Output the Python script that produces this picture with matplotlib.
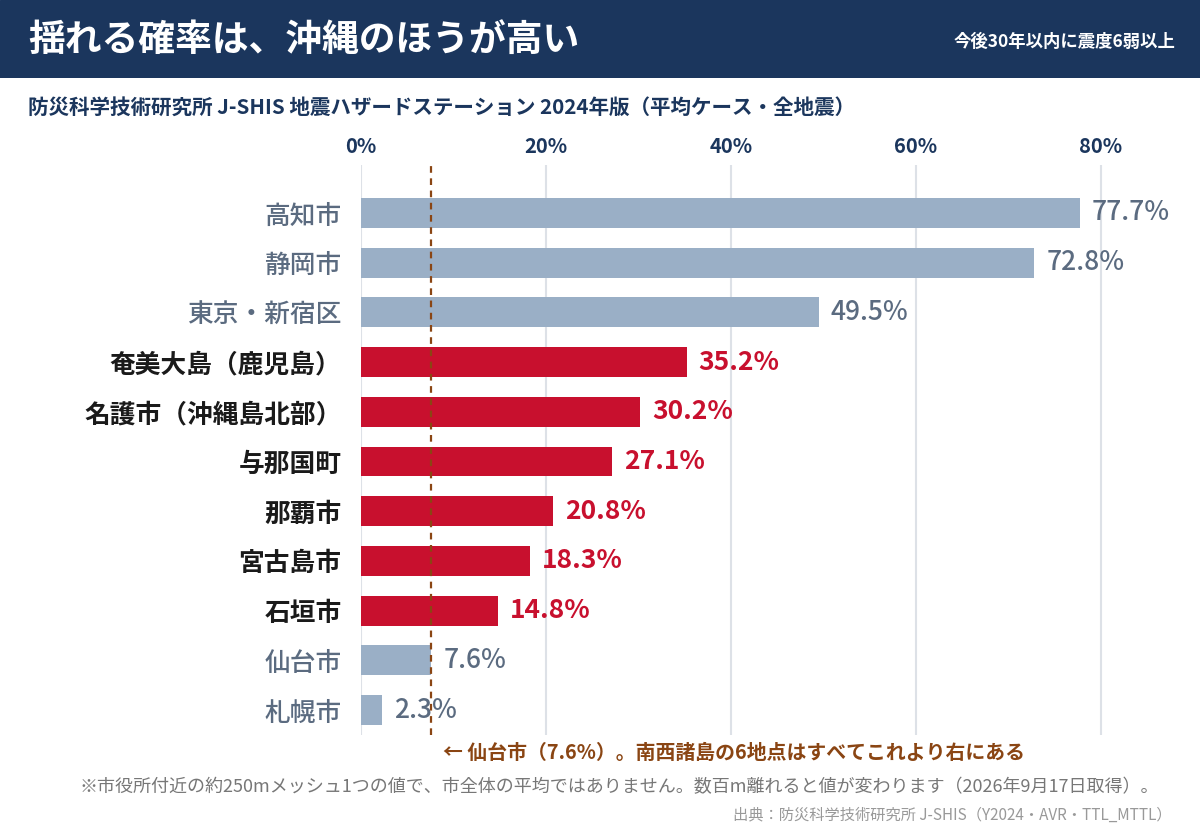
import matplotlib
matplotlib.use("Agg")
import matplotlib.pyplot as plt

plt.rcParams['font.family'] = ['Noto Sans CJK JP', 'DejaVu Sans']

categories = ["高知市", "静岡市", "東京・新宿区", "奄美大島（鹿児島）", "名護市（沖縄島北部）",
              "与那国町", "那覇市", "宮古島市", "石垣市", "仙台市", "札幌市"]
values = [77.7, 72.8, 49.5, 35.2, 30.2, 27.1, 20.8, 18.3, 14.8, 7.6, 2.3]
highlight = [False, False, False, True, True, True, True, True, True, False, False]
xticks = [0, 20, 40, 60, 80]
sendai = 7.6

NAVY = "#1b365d"
GRAYBAR = "#9aafc6"
RED = "#c8102e"
GRAYTXT = "#5b6b80"
BROWN = "#8a4513"

W, H = 1200, 832
fig = plt.figure(figsize=(12, 8.32), dpi=100)
fig.patch.set_facecolor("white")

hdr = fig.add_axes([0, 1 - 78 / H, 1, 78 / H])
hdr.set_axis_off()
hdr.add_patch(plt.Rectangle((0, 0), 1, 1, color=NAVY, transform=hdr.transAxes))
fig.text(28 / W, 1 - 40 / H, "揺れる確率は、沖縄のほうが高い", color="white",
         fontsize=26.5, fontweight="bold", va="center", ha="left")
fig.text(1175 / W, 1 - 42 / H, "今後30年以内に震度6弱以上", color="white",
         fontsize=12.5, fontweight="bold", va="center", ha="right")
fig.text(28 / W, 1 - 107 / H, "防災科学技術研究所 J-SHIS 地震ハザードステーション 2024年版（平均ケース・全地震）",
         color=NAVY, fontsize=14.8, fontweight="bold", va="center", ha="left")

left, right, top, bottom = 361, 1175, 165, 735
ax = fig.add_axes([left / W, 1 - bottom / H, (right - left) / W, (bottom - top) / H])
n = len(categories)
ax.set_xlim(0, 88)
sp = 49.7
ax.set_ylim(10 + (735 - 710) / sp, -(213 - 165) / sp)
for s in ax.spines.values():
    s.set_visible(False)
ax.set_xticks(xticks)
ax.set_xticklabels([f"{t}%" for t in xticks])
ax.xaxis.tick_top()
ax.tick_params(axis="x", length=0, pad=6, labelsize=14.5, labelcolor=NAVY)
for lab in ax.get_xticklabels():
    lab.set_fontweight("bold")
ax.grid(axis="x", color="#dde1e7", linewidth=1.5)
ax.set_axisbelow(True)

ys = list(range(n))
colors = [RED if h else GRAYBAR for h in highlight]
ax.barh(ys, values, height=0.6, color=colors, zorder=2)
ax.set_yticks(ys)
ax.set_yticklabels(categories)
ax.tick_params(axis="y", length=0, pad=14, labelsize=18.5)
for lab, h in zip(ax.get_yticklabels(), highlight):
    lab.set_color("#1a1a1a" if h else GRAYTXT)
    lab.set_fontweight("bold" if h else "medium")

for y, v, h in zip(ys, values, highlight):
    ax.text(v + 1.3, y, f"{v}%", va="center", ha="left", fontsize=19,
            color=RED if h else GRAYTXT, fontweight="bold" if h else "medium", zorder=3)

ax.axvline(sendai, color=BROWN, linestyle=(0, (3, 2.5)), linewidth=1.6, zorder=4)

fig.text(443 / W, 1 - 752 / H, "← 仙台市（7.6%）。南西諸島の6地点はすべてこれより右にある",
         color=BROWN, fontsize=14.3, fontweight="bold", va="center", ha="left")
fig.text(80 / W, 1 - 787 / H,
         "※市役所付近の約250mメッシュ1つの値で、市全体の平均ではありません。数百m離れると値が変わります（2026年9月17日取得）。",
         color="#777777", fontsize=13, va="center", ha="left")
fig.text(1172 / W, 1 - 815 / H, "出典：防災科学技術研究所 J-SHIS（Y2024・AVR・TTL_MTTL）",
         color="#999999", fontsize=11, va="center", ha="right")

fig.savefig("out.png", dpi=100)
